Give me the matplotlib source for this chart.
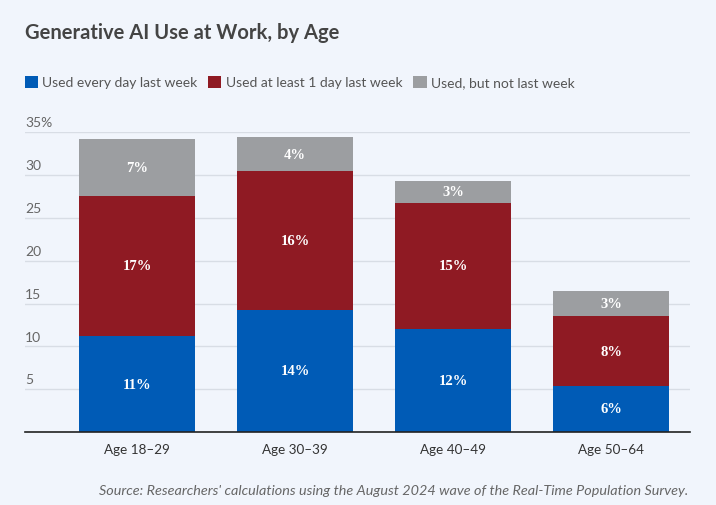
import numpy as np
import matplotlib
matplotlib.use("Agg")
import matplotlib.pyplot as plt
from matplotlib.patches import Patch

plt.rcParams['font.family'] = ['Lato', 'DejaVu Sans']

# data (percent of workers)
ages = ['Age 18\u201329', 'Age 30\u201339', 'Age 40\u201349', 'Age 50\u201364']
every_day = [11.2, 14.3, 12.0, 5.4]
at_least_one = [16.4, 16.2, 14.8, 8.1]
not_last_week = [6.6, 3.9, 2.5, 3.0]
labels_every = ['11%', '14%', '12%', '6%']
labels_one = ['17%', '16%', '15%', '8%']
labels_not = ['7%', '4%', '3%', '3%']
series_names = ['Used every day last week', 'Used at least 1 day last week',
                'Used, but not last week']
yticks = [0, 5, 10, 15, 20, 25, 30, 35]

bg = '#f1f5fc'
colors = ['#005bb6', '#8f1a23', '#9c9ea1']

W, H = 716, 506
fig = plt.figure(figsize=(W / 100, H / 100), dpi=100, facecolor=bg)
ax = fig.add_axes([25 / W, 1 - 433 / H, (690 - 25) / W, (433 - 133.3) / H])
ax.set_facecolor(bg)

x = np.arange(len(ages))
bottom = np.zeros(len(ages))
all_labels = [labels_every, labels_one, labels_not]
for vals, col, labs in zip([every_day, at_least_one, not_last_week], colors, all_labels):
    vals = np.array(vals)
    ax.bar(x, vals, bottom=bottom, width=0.734, color=col, zorder=3)
    for xi, b, v, lab in zip(x, bottom, vals, labs):
        ax.text(xi, b + v / 2, lab, ha='center', va='center', color='white',
                fontsize=10.5, fontweight='bold', family='Liberation Serif', zorder=4)
    bottom = bottom + vals

ax.set_xlim(-0.709, 3.5)
ax.set_ylim(0, 35)
ax.set_yticks(yticks)
ax.set_yticklabels([])
ax.grid(axis='y', color='#d8dde5', linewidth=1, zorder=0)
for t in yticks[1:]:
    lab = '35%' if t == 35 else str(t)
    ax.text(0.0, t + 0.45, lab, transform=ax.get_yaxis_transform(), ha='left',
            va='bottom', fontsize=10, color='#666666')
ax.tick_params(axis='y', length=0)
ax.set_xticks(x)
ax.set_xticklabels(ages, fontsize=9.7, color='#333333')
ax.tick_params(axis='x', length=0, pad=8)
for s in ['top', 'right', 'left']:
    ax.spines[s].set_visible(False)
ax.spines['bottom'].set_color('#222222')
ax.spines['bottom'].set_linewidth(1.2)
ax.spines['bottom'].set_zorder(5)

fig.text(25 / W, 1 - 33 / H, 'Generative AI Use at Work, by Age', ha='left', va='center',
         fontsize=14.5, fontweight='bold', color='#444444')

handles = [Patch(facecolor=c, edgecolor='none') for c in colors]
fig.legend(handles, series_names, loc='center left', bbox_to_anchor=(12 / W, 1 - 83 / H),
           ncol=3, frameon=False, fontsize=10, handlelength=0.95, handleheight=0.95,
           handletextpad=0.3, columnspacing=0.8, labelcolor='#555555')

fig.text(688 / W, 1 - 491 / H,
         "Source: Researchers' calculations using the August 2024 wave of the Real-Time Population Survey.",
         ha='right', va='center', fontsize=10.4, style='italic', color='#666666')

fig.savefig('out.png', dpi=100, facecolor=bg)
